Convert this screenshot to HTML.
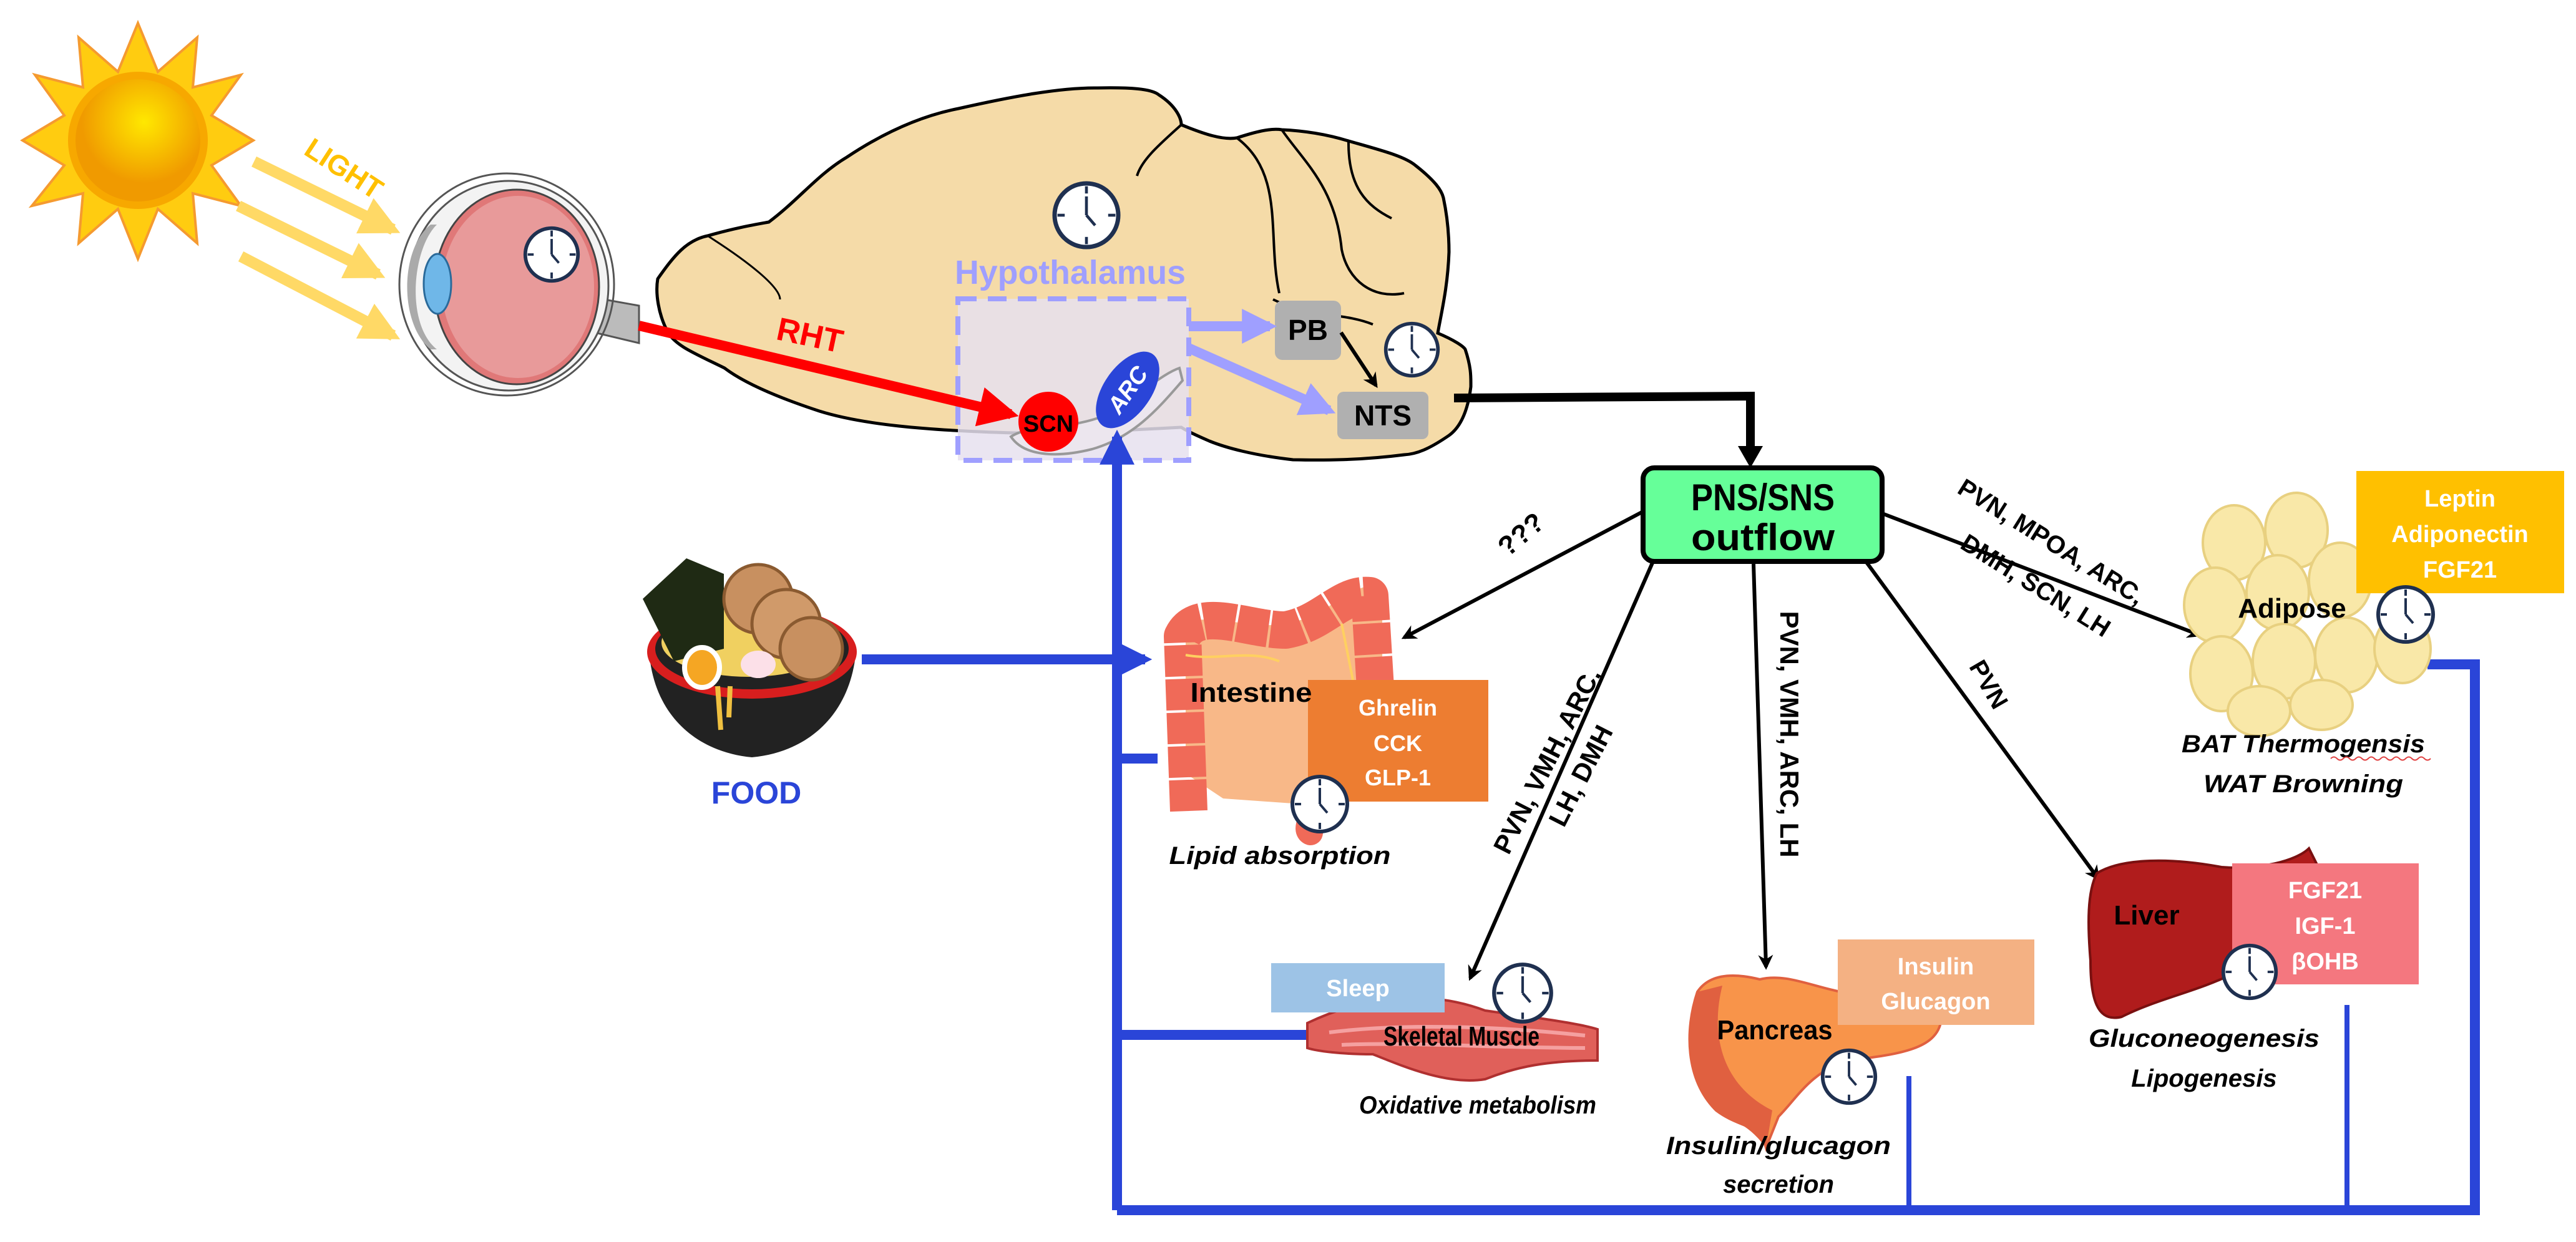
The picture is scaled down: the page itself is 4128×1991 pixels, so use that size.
<!DOCTYPE html>
<html><head><meta charset="utf-8"><style>
html,body{margin:0;padding:0;background:#fff}
svg{display:block}
text{font-family:"Liberation Sans Narrow","Liberation Sans",sans-serif;font-weight:bold}
</style></head><body>
<svg width="4128" height="1991" viewBox="0 0 4128 1991" xmlns="http://www.w3.org/2000/svg">
<defs>
<symbol id="clk" viewBox="-50 -50 100 100">
<circle r="44" fill="#fff" stroke="#1f3050" stroke-width="6"/>
<g stroke="#1f3050" stroke-width="4">
<line x1="0" y1="-40" x2="0" y2="-30"/><line x1="0" y1="40" x2="0" y2="30"/>
<line x1="-40" y1="0" x2="-30" y2="0"/><line x1="40" y1="0" x2="30" y2="0"/>
<line x1="0" y1="0" x2="0" y2="-26"/><line x1="0" y1="0" x2="12" y2="14"/>
</g>
</symbol>
<marker id="ab" viewBox="0 0 10 10" refX="8" refY="5" markerWidth="4" markerHeight="4" orient="auto"><path d="M0,0 L10,5 L0,10 L3,5z" fill="#000"/></marker>
<marker id="ar" viewBox="0 0 10 10" refX="8" refY="5" markerWidth="4" markerHeight="4" orient="auto"><path d="M0,0 L10,5 L0,10z" fill="#f00"/></marker>
<marker id="al" viewBox="0 0 10 10" refX="8" refY="5" markerWidth="3.5" markerHeight="3.5" orient="auto"><path d="M0,0 L10,5 L0,10z" fill="#9f9fff"/></marker>
<marker id="ay" viewBox="0 0 10 10" refX="8" refY="5" markerWidth="3.5" markerHeight="3.5" orient="auto"><path d="M0,0 L10,5 L0,10z" fill="#ffd966"/></marker>
<marker id="abl" viewBox="0 0 10 10" refX="8" refY="5" markerWidth="3.5" markerHeight="3.5" orient="auto"><path d="M0,0 L10,5 L0,10z" fill="#2a45d8"/></marker>
<radialGradient id="sun" cx="0.55" cy="0.35"><stop offset="0" stop-color="#ffe800"/><stop offset="1" stop-color="#f09a00"/></radialGradient>
</defs>

<!-- sun -->
<g transform="translate(221,225)">
<polygon fill="#ffcc10" stroke="#f59a30" stroke-width="4" points="0,-188 32,-110 95,-165 88,-85 165,-105 118,-40 185,0 118,40 165,105 88,85 95,165 32,110 0,190 -32,110 -95,165 -88,85 -170,105 -118,40 -185,0 -118,-40 -165,-105 -88,-85 -95,-165 -32,-110"/>
<ellipse rx="112" ry="110" fill="#f7a800"/>
<ellipse rx="100" ry="98" fill="url(#sun)"/>
</g>
<text x="547" y="285" fill="#ffc000" font-size="46" transform="rotate(33 547 277)" text-anchor="middle">LIGHT</text>
<g stroke="#ffd966" stroke-width="18" marker-end="url(#ay)">
<line x1="407" y1="259" x2="630" y2="368"/>
<line x1="382" y1="330" x2="606" y2="440"/>
<line x1="386" y1="411" x2="630" y2="538"/>
</g>

<!-- eye -->
<path d="M940,475 L1024,490 L1024,550 L940,530z" fill="#bbb" stroke="#555" stroke-width="3"/>
<ellipse cx="812" cy="456" rx="172" ry="178" fill="none" stroke="#555" stroke-width="3"/>
<ellipse cx="815" cy="458" rx="160" ry="168" fill="#f3f3f3" stroke="#555" stroke-width="3"/>
<ellipse cx="828" cy="460" rx="132" ry="156" fill="#e07878" stroke="#444" stroke-width="3"/>
<ellipse cx="830" cy="460" rx="122" ry="146" fill="#e89a9a"/>
<path d="M700,360 C660,400 650,520 700,560 L690,560 C640,520 640,400 690,360z" fill="#aaa"/>
<ellipse cx="701" cy="455" rx="22" ry="48" fill="#6fb7e8" stroke="#2a6a9a" stroke-width="3"/>
<use href="#clk" x="836" y="360" width="96" height="96"/>

<!-- brain -->
<path d="M1054,447 C1080,410 1100,385 1134,378 C1180,365 1210,360 1232,356 C1280,320 1310,280 1357,252 C1420,210 1480,185 1536,174 C1620,155 1700,140 1759,141 C1810,140 1845,142 1857,152 C1885,170 1893,190 1893,200 C1930,215 1960,225 1982,221 C2010,212 2035,205 2054,208 C2100,210 2135,218 2161,226 C2210,240 2250,250 2268,265 C2300,290 2310,305 2313,317 C2320,350 2322,380 2322,404 C2320,460 2310,500 2304,534 C2330,545 2345,555 2348,560 C2358,590 2357,605 2357,620 C2352,660 2340,685 2322,698 C2290,720 2270,728 2250,729 C2180,738 2120,738 2072,737 C2010,730 1965,718 1938,707 C1915,697 1900,690 1893,685 C1800,690 1700,695 1625,694 C1480,690 1380,680 1313,659 C1240,635 1190,612 1161,590 C1110,565 1085,555 1071,534 C1055,505 1050,470 1054,447z" fill="#f5dba8" stroke="#000" stroke-width="5"/>
<path d="M1893,200 C1860,230 1830,255 1822,282" fill="none" stroke="#000" stroke-width="4"/>
<path d="M1982,221 C2060,280 2030,380 2050,470 M2054,208 C2090,260 2140,300 2150,400 C2160,450 2200,480 2250,470 M2161,226 C2160,300 2190,330 2230,350 M2040,480 C2100,510 2150,500 2200,520" fill="none" stroke="#000" stroke-width="4"/>
<path d="M1134,378 C1200,420 1250,460 1250,480" fill="none" stroke="#000" stroke-width="3"/>
<use href="#clk" x="1683" y="287" width="116" height="116"/>

<!-- hypothalamus -->
<text x="1715" y="455" fill="#9f9fff" font-size="54" text-anchor="middle" textLength="370" lengthAdjust="spacingAndGlyphs">Hypothalamus</text>
<rect x="1535" y="479" width="370" height="259" fill="#e6e0ef" fill-opacity="0.85" stroke="#9f9fff" stroke-width="8" stroke-dasharray="30,18"/>
<path d="M1620,700 C1650,680 1700,690 1760,670 C1820,640 1860,600 1890,590 L1895,610 C1860,650 1820,700 1750,720 C1690,735 1640,730 1620,700z" fill="#ece6ee" stroke="#999" stroke-width="4"/>

<!-- RHT -->
<line x1="1024" y1="522" x2="1620" y2="664" stroke="#f00" stroke-width="16" marker-end="url(#ar)"/>
<text x="1297" y="555" fill="#f00" font-size="52" transform="rotate(12 1297 542)" text-anchor="middle">RHT</text>

<circle cx="1680" cy="676" r="48" fill="#f00"/>
<text x="1680" y="692" font-size="38" text-anchor="middle" fill="#000">SCN</text>
<ellipse cx="1807" cy="625" rx="38" ry="70" transform="rotate(35 1807 625)" fill="#2a45d8"/>
<text x="1807" y="638" font-size="38" text-anchor="middle" fill="#fff" font-style="italic" transform="rotate(-55 1807 625)">ARC</text>

<!-- PB NTS -->
<rect x="2043" y="482" width="106" height="95" rx="12" fill="#b0b0b0"/>
<text x="2096" y="545" font-size="46" text-anchor="middle">PB</text>
<rect x="2143" y="628" width="146" height="76" rx="10" fill="#b0b0b0"/>
<text x="2216" y="682" font-size="46" text-anchor="middle">NTS</text>
<use href="#clk" x="2215" y="513" width="95" height="95"/>
<g stroke="#9f9fff" stroke-width="16" marker-end="url(#al)">
<line x1="1905" y1="523" x2="2035" y2="523"/>
<line x1="1905" y1="558" x2="2130" y2="658"/>
</g>
<line x1="2149" y1="533" x2="2205" y2="618" stroke="#000" stroke-width="6" marker-end="url(#ab)"/>
<path d="M2330,638 L2805,635 L2805,735" fill="none" stroke="#000" stroke-width="14"/>
<path d="M2785,715 L2825,715 L2805,750z" fill="#000"/>

<!-- PNS/SNS -->
<rect x="2633" y="750" width="383" height="150" rx="18" fill="#66ff99" stroke="#000" stroke-width="8"/>
<text x="2825" y="818" font-size="60" text-anchor="middle" font-weight="normal" textLength="230" lengthAdjust="spacingAndGlyphs">PNS/SNS</text>
<text x="2825" y="882" font-size="60" text-anchor="middle" font-weight="normal" textLength="230" lengthAdjust="spacingAndGlyphs">outflow</text>

<!-- black arrows -->
<g stroke="#000" stroke-width="6" marker-end="url(#ab)" fill="none">
<line x1="2633" y1="820" x2="2250" y2="1022"/>
<line x1="2649" y1="900" x2="2356" y2="1568"/>
<line x1="2810" y1="904" x2="2830" y2="1550"/>
<line x1="2990" y1="900" x2="3362" y2="1408"/>
<line x1="3016" y1="823" x2="3525" y2="1018"/>
</g>
<text x="2447" y="868" font-size="44" text-anchor="middle" transform="rotate(-40 2447 868)">???</text>
<text x="2492" y="1226" font-size="42" text-anchor="middle" transform="rotate(-63 2492 1226)">PVN, VMH, ARC,</text>
<text x="2546" y="1250" font-size="42" text-anchor="middle" transform="rotate(-63 2546 1250)">LH, DMH</text>
<text x="2853" y="1177" font-size="42" text-anchor="middle" transform="rotate(90 2853 1177)">PVN, VMH, ARC, LH</text>
<text x="3175" y="1104" font-size="40" text-anchor="middle" transform="rotate(60 3175 1104)">PVN</text>
<text x="3280" y="880" font-size="40" text-anchor="middle" transform="rotate(32 3280 880)">PVN, MPOA, ARC,</text>
<text x="3255" y="950" font-size="40" text-anchor="middle" transform="rotate(32 3255 950)">DMH, SCN, LH</text>

<!-- food -->
<path d="M1040,1040 L1372,1040 C1365,1140 1300,1205 1205,1214 C1110,1205 1045,1140 1040,1040z" fill="#222"/>
<ellipse cx="1205" cy="1045" rx="168" ry="75" fill="#d81e1e"/>
<ellipse cx="1205" cy="1040" rx="155" ry="65" fill="#222"/>
<ellipse cx="1200" cy="1030" rx="140" ry="55" fill="#f0d060"/>
<path d="M1030,960 L1100,895 L1160,920 L1160,1040 L1080,1060z" fill="#1f2a14"/>
<circle cx="1215" cy="960" r="55" fill="#c89060" stroke="#8a5a30" stroke-width="5"/>
<circle cx="1260" cy="1000" r="55" fill="#d09a6a" stroke="#8a5a30" stroke-width="5"/>
<circle cx="1300" cy="1040" r="50" fill="#c89060" stroke="#8a5a30" stroke-width="5"/>
<ellipse cx="1125" cy="1070" rx="28" ry="32" fill="#f5a623" stroke="#fff" stroke-width="8"/>
<ellipse cx="1215" cy="1065" rx="28" ry="22" fill="#fce0e8"/>
<path d="M1150,1100 L1155,1170 M1170,1100 L1168,1150" stroke="#f0c040" stroke-width="8"/>
<text x="1212" y="1288" fill="#2a45d8" font-size="50" text-anchor="middle">FOOD</text>

<!-- blue feedback -->
<g stroke="#2a45d8" stroke-width="16" fill="none">
<line x1="1381" y1="1057" x2="1835" y2="1057" marker-end="url(#abl)"/>
<line x1="1790" y1="1940" x2="1790" y2="700" marker-end="url(#abl)"/>
<polyline points="1790,1940 3966,1940 3966,1065 3890,1065"/>
<line x1="1790" y1="1216" x2="1855" y2="1216"/>
<line x1="1790" y1="1659" x2="2095" y2="1659"/>
</g>
<line x1="3059" y1="1725" x2="3059" y2="1940" stroke="#2a45d8" stroke-width="8"/>
<line x1="3761" y1="1611" x2="3761" y2="1940" stroke="#2a45d8" stroke-width="8"/>

<!-- intestine -->
<path d="M1900,1000 C1940,980 2000,1010 2060,1000 C2120,990 2150,950 2190,940 L2215,960 L2215,1200 C2200,1260 2150,1300 2100,1290 L1960,1280 L1900,1240z" fill="#f8b888"/>
<path d="M1905,1300 L1895,1020 C1920,970 2000,1010 2060,1010 C2120,1000 2150,950 2195,955 L2210,1200" fill="none" stroke="#f06a58" stroke-width="60" stroke-linejoin="round" stroke-dasharray="50,4"/>
<path d="M2120,1280 C2100,1310 2090,1330 2100,1335" stroke="#f06a58" stroke-width="40" fill="none" stroke-linecap="round"/>
<path d="M1900,1050 C1950,1060 2000,1040 2050,1060 M2150,1000 C2160,1050 2170,1100 2180,1150" stroke="#ffd060" stroke-width="4" fill="none"/>
<rect x="2096" y="1090" width="289" height="195" fill="#ed7d31"/>
<text x="2240" y="1147" fill="#fff" font-size="36" text-anchor="middle">Ghrelin</text>
<text x="2240" y="1204" fill="#fff" font-size="36" text-anchor="middle">CCK</text>
<text x="2240" y="1259" fill="#fff" font-size="36" text-anchor="middle">GLP-1</text>
<text x="2005" y="1125" font-size="44" text-anchor="middle" textLength="195" lengthAdjust="spacingAndGlyphs">Intestine</text>
<use href="#clk" x="2065" y="1237" width="100" height="104"/>
<text x="2051" y="1385" font-size="40" font-style="italic" text-anchor="middle" textLength="355" lengthAdjust="spacingAndGlyphs">Lipid absorption</text>

<!-- muscle -->
<path d="M2095,1640 C2200,1590 2300,1590 2380,1620 C2450,1630 2530,1640 2560,1650 L2560,1700 C2480,1700 2430,1710 2380,1730 C2320,1740 2250,1710 2200,1690 C2150,1690 2110,1685 2095,1680z" fill="#e0605a" stroke="#b03030" stroke-width="4"/>
<path d="M2130,1655 C2250,1640 2400,1645 2540,1660 M2150,1675 C2250,1670 2400,1680 2540,1680" stroke="#f5a0a0" stroke-width="6" fill="none"/>
<rect x="2037" y="1544" width="278" height="79" fill="#9dc3e6"/>
<text x="2176" y="1597" fill="#fff" font-size="38" text-anchor="middle">Sleep</text>
<use href="#clk" x="2388" y="1530" width="104" height="124"/>
<text x="2342" y="1676" font-size="44" text-anchor="middle" textLength="250" lengthAdjust="spacingAndGlyphs">Skeletal Muscle</text>
<text x="2368" y="1785" font-size="40" font-style="italic" text-anchor="middle" textLength="380" lengthAdjust="spacingAndGlyphs">Oxidative metabolism</text>

<!-- pancreas -->
<path d="M2720,1590 C2700,1650 2700,1730 2750,1780 C2790,1810 2820,1800 2830,1840 L2850,1790 C2880,1760 2900,1720 2960,1700 C3050,1690 3100,1680 3110,1640 C3090,1610 3000,1600 2950,1590 C2900,1580 2860,1560 2820,1570 C2780,1560 2740,1560 2720,1590z" fill="#f8944a" stroke="#e06040" stroke-width="4"/>
<path d="M2720,1590 C2700,1650 2700,1730 2750,1780 C2780,1800 2800,1800 2830,1840 L2840,1780 C2760,1740 2740,1660 2760,1580z" fill="#e06040"/>
<rect x="2945" y="1506" width="315" height="137" fill="#f4b183"/>
<text x="3102" y="1562" fill="#fff" font-size="38" text-anchor="middle">Insulin</text>
<text x="3102" y="1618" fill="#fff" font-size="38" text-anchor="middle">Glucagon</text>
<text x="2844" y="1666" font-size="44" text-anchor="middle" textLength="185" lengthAdjust="spacingAndGlyphs">Pancreas</text>
<use href="#clk" x="2915" y="1670" width="96" height="112"/>
<text x="2850" y="1850" font-size="40" font-style="italic" text-anchor="middle" textLength="360" lengthAdjust="spacingAndGlyphs">Insulin/glucagon</text>
<text x="2850" y="1912" font-size="40" font-style="italic" text-anchor="middle">secretion</text>

<!-- liver -->
<path d="M3360,1400 C3400,1375 3480,1375 3560,1390 C3620,1395 3680,1380 3700,1360 L3720,1400 C3700,1450 3650,1520 3580,1560 C3520,1590 3460,1600 3400,1630 C3360,1640 3350,1600 3350,1540 C3345,1480 3345,1430 3360,1400z" fill="#b01c1c" stroke="#7a1010" stroke-width="4"/>
<rect x="3577" y="1384" width="299" height="194" fill="#f4777f"/>
<text x="3726" y="1440" fill="#fff" font-size="38" text-anchor="middle">FGF21</text>
<text x="3726" y="1497" fill="#fff" font-size="38" text-anchor="middle">IGF-1</text>
<text x="3726" y="1554" fill="#fff" font-size="38" text-anchor="middle">βOHB</text>
<text x="3440" y="1482" font-size="44" text-anchor="middle">Liver</text>
<use href="#clk" x="3557" y="1500" width="96" height="116"/>
<text x="3532" y="1678" font-size="40" font-style="italic" text-anchor="middle" textLength="370" lengthAdjust="spacingAndGlyphs">Gluconeogenesis</text>
<text x="3532" y="1742" font-size="40" font-style="italic" text-anchor="middle">Lipogenesis</text>

<!-- adipose -->
<g fill="#f9e8a8" stroke="#e8d080" stroke-width="4">
<ellipse cx="3580" cy="870" rx="50" ry="60"/><ellipse cx="3680" cy="850" rx="50" ry="60"/>
<ellipse cx="3550" cy="970" rx="50" ry="60"/><ellipse cx="3650" cy="950" rx="50" ry="60"/>
<ellipse cx="3750" cy="930" rx="50" ry="60"/><ellipse cx="3560" cy="1080" rx="50" ry="60"/>
<ellipse cx="3660" cy="1060" rx="50" ry="60"/><ellipse cx="3760" cy="1050" rx="50" ry="60"/>
<ellipse cx="3850" cy="1040" rx="45" ry="55"/><ellipse cx="3620" cy="1140" rx="50" ry="40"/>
<ellipse cx="3720" cy="1130" rx="50" ry="40"/>
</g>
<rect x="3776" y="755" width="333" height="196" fill="#ffc000"/>
<text x="3942" y="812" fill="#fff" font-size="38" text-anchor="middle">Leptin</text>
<text x="3942" y="869" fill="#fff" font-size="38" text-anchor="middle">Adiponectin</text>
<text x="3942" y="926" fill="#fff" font-size="38" text-anchor="middle">FGF21</text>
<text x="3673" y="990" font-size="44" text-anchor="middle">Adipose</text>
<use href="#clk" x="3805" y="930" width="100" height="110"/>
<text x="3691" y="1206" font-size="40" font-style="italic" text-anchor="middle" textLength="390" lengthAdjust="spacingAndGlyphs">BAT Thermogensis</text>
<path d="M3735,1216 q5,-5 10,0 t10,0 t10,0 t10,0 t10,0 t10,0 t10,0 t10,0 t10,0 t10,0 t10,0 t10,0 t10,0 t10,0 t10,0 t10,0" stroke="#e04040" stroke-width="2" fill="none"/>
<text x="3691" y="1270" font-size="40" font-style="italic" text-anchor="middle" textLength="320" lengthAdjust="spacingAndGlyphs">WAT Browning</text>
</svg>
</body></html>
